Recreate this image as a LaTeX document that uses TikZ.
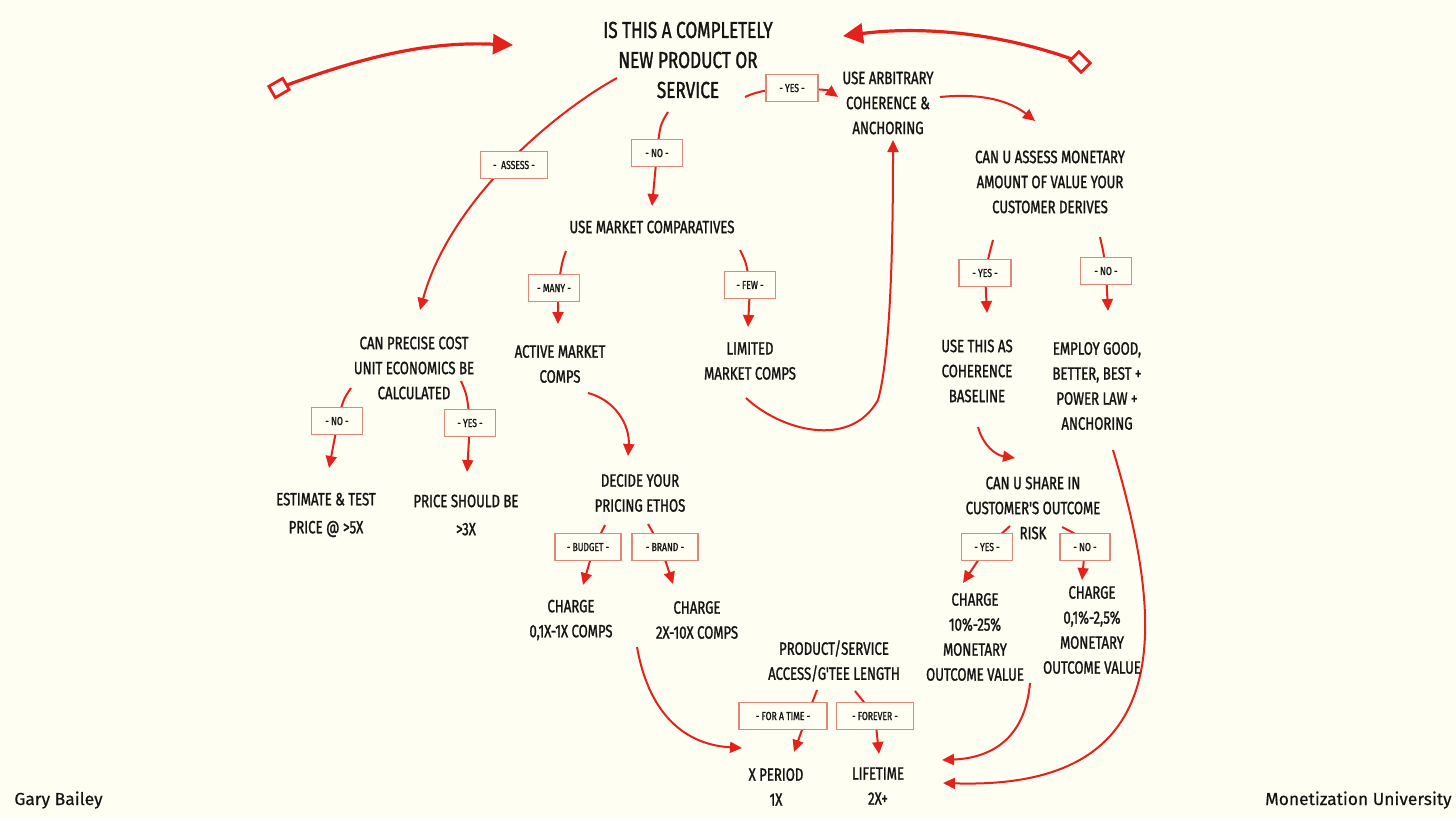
\documentclass[tikz,border=0pt]{standalone}
\usepackage{fontspec}
\usetikzlibrary{arrows.meta,calc}
\newfontfamily\hand[FakeStretch=0.74,FakeBold=1.3]{Fira Sans}
\newfontfamily\footfont[FakeBold=0.4]{Fira Sans}
\definecolor{bgc}{HTML}{FFFEF3}
\definecolor{arrred}{HTML}{E5211B}
\definecolor{boxred}{HTML}{E0877A}
\definecolor{ink}{HTML}{141414}
\pgfdeclarelayer{back}\pgfdeclarelayer{mid}\pgfsetlayers{back,mid,main}
\begin{document}
\begin{tikzpicture}[x=0.5pt,y=-0.5pt,
 txt/.style={font=\hand\fontsize{8.9}{12.5}\selectfont, align=center, inner sep=0pt, text=ink},
 ttl/.style={font=\hand\fontsize{11.6}{15}\selectfont, align=center, inner sep=0pt, text=ink},
 lbl/.style={draw=boxred, fill=bgc, line width=0.6pt, font=\hand\fontsize{5.8}{6}\selectfont, text=ink, minimum height=13.5pt, inner sep=1pt},
 link/.style={draw=arrred, line width=1pt},
 arr/.style={link, -{Triangle[length=6pt,width=5.5pt]}},
 big/.style={draw=arrred, line width=1.6pt, -{Triangle[length=10pt,width=10pt]}},
 tag/.style={draw=arrred, line width=1.4pt, fill=white, minimum width=8pt, minimum height=6.5pt, inner sep=0pt},
 foot/.style={font=\footfont\fontsize{8.7}{10}\selectfont, text=ink, inner sep=0pt}]
\begin{pgfonlayer}{back}
\fill[bgc] (0,0) rectangle (1456,819);
\end{pgfonlayer}
\useasboundingbox (0,0) rectangle (1456,819);

% ---- text nodes
\node[ttl] (q1) at (688,60) {IS THIS A COMPLETELY\\NEW PRODUCT OR\\SERVICE};
\node[txt] (arb) at (888,103) {USE ARBITRARY\\COHERENCE \&\\ANCHORING};
\node[txt] (assess) at (1050,182) {CAN U ASSESS MONETARY\\AMOUNT OF VALUE YOUR\\CUSTOMER DERIVES};
\node[txt] (usethis) at (977,371) {USE THIS AS\\COHERENCE\\BASELINE};
\node[txt] (employ) at (1097,386) {EMPLOY GOOD,\\BETTER, BEST +\\POWER LAW +\\ANCHORING};
\node[txt] (share) at (1033,508) {CAN U SHARE IN\\CUSTOMER'S OUTCOME\\RISK};
\node[txt] (c10) at (975,637) {CHARGE\\10\%-25\%\\MONETARY\\OUTCOME VALUE};
\node[txt] (c01) at (1092,630) {CHARGE\\0,1\%-2,5\%\\MONETARY\\OUTCOME VALUE};
\node[txt] (prod) at (834,661) {PRODUCT/SERVICE\\ACCESS/G'TEE LENGTH};
\node[txt] (xper) at (776,787) {X PERIOD\\1X};
\node[txt] (life) at (878,786) {LIFETIME\\2X+};
\node[txt] (umc) at (652,227) {USE MARKET COMPARATIVES};
\node[txt] (active) at (560,364) {ACTIVE MARKET\\COMPS};
\node[txt] (limited) at (750,361) {LIMITED\\MARKET COMPS};
\node[txt] (decide) at (640,493) {DECIDE YOUR\\PRICING ETHOS};
\node[txt] (cbud) at (571,620) {CHARGE\\0,1X-1X COMPS};
\node[txt] (cbrand) at (697,620) {CHARGE\\2X-10X COMPS};
\node[txt] (precise) at (414,368) {CAN PRECISE COST\\UNIT ECONOMICS BE\\CALCULATED};
\node[txt] (estimate) at (326,515) {ESTIMATE \& TEST\\[1.5pt]PRICE @ >5X};
\node[txt] (pricesb) at (466,515) {PRICE SHOULD BE\\[1.5pt]>3X};

% ---- label boxes
\node[lbl, minimum width=33.5pt] (assessbox) at (514,165) {-\ \ ASSESS -};
\node[lbl, minimum width=25.5pt] (no1) at (657,153) {- NO -};
\node[lbl, minimum width=26pt] (yes1) at (792,88) {- YES -};
\node[lbl, minimum width=26pt] (yes2) at (985,273) {- YES -};
\node[lbl, minimum width=25.5pt] (no2) at (1106,271) {- NO -};
\node[lbl, minimum width=25.5pt] (yes3) at (987,547) {- YES -};
\node[lbl, minimum width=25pt] (no3) at (1085,547) {- NO -};
\node[lbl, minimum width=44pt] (fortime) at (783,716) {- FOR A TIME -};
\node[lbl, minimum width=38.5pt] (forever) at (875,716) {- FOREVER -};
\node[lbl, minimum width=25.5pt] (many) at (554,288) {- MANY -};
\node[lbl, minimum width=25.5pt] (few) at (750,285) {- FEW -};
\node[lbl, minimum width=33pt] (budget) at (588,547) {- BUDGET -};
\node[lbl, minimum width=33pt] (brand) at (665,547) {- BRAND -};
\node[lbl, minimum width=25.5pt] (no4) at (337,421) {- NO -};
\node[lbl, minimum width=25.5pt] (yes4) at (470,423) {- YES -};

% ---- decorative tags
\node[tag, rotate=30] (tagL) at (279,88) {};
\node[tag, rotate=-45] (tagR) at (1080,62) {};
\coordinate (bigT1) at (513,45);
\coordinate (bigT2) at (843,36);

% ---- footer
\node[foot, anchor=base west] (gary) at (14,805) {Gary Bailey};
\node[foot, anchor=base east] (mu) at (1452,805) {Monetization University};

% ---- connector end points
\coordinate (q1s1) at (617,78);  \coordinate (precT) at (420,310);
\coordinate (q1s2) at (668,112); \coordinate (umcT) at (652,206);
\coordinate (q1s3) at (745,97);  \coordinate (arbT) at (838,97);
\coordinate (arbS) at (940,97);  \coordinate (assT) at (1035,121);
\coordinate (assS1) at (993,240); \coordinate (useT) at (987,313);
\coordinate (assS2) at (1100,237); \coordinate (empT) at (1108,311);
\coordinate (useS) at (978,427); \coordinate (shT) at (1015,458);
\coordinate (shS1) at (1010,526); \coordinate (c10T) at (963,583);
\coordinate (shS2) at (1062,527); \coordinate (c01T) at (1082,580);
\coordinate (c10S) at (1030,683); \coordinate (lifeT1) at (942,760);
\coordinate (empS) at (1113,450); \coordinate (lifeT2) at (943,783);
\coordinate (prodS1) at (817,690); \coordinate (xperT) at (794,752);
\coordinate (prodS2) at (855,691); \coordinate (lifeT) at (879,754);
\coordinate (brS) at (637,647); \coordinate (xperT2) at (742,748);
\coordinate (umcS1) at (566,251); \coordinate (actT) at (558,324);
\coordinate (umcS2) at (740,250); \coordinate (limT) at (748,327);
\coordinate (actS) at (588,393); \coordinate (decT) at (628,456);
\coordinate (limS) at (746,398); \coordinate (arbT2) at (893,140);
\coordinate (decS1) at (605,525); \coordinate (budT) at (583,585);
\coordinate (decS2) at (648,524); \coordinate (brT) at (673,584);
\coordinate (preS1) at (351,388); \coordinate (estT) at (329,468);
\coordinate (preS2) at (461,381); \coordinate (psT) at (467,472);

\begin{pgfonlayer}{mid}
\draw[big] (tagL.center) .. controls (380,50) and (440,42) .. (bigT1);
\draw[big] (tagR.center) .. controls (1000,32) and (920,26) .. (bigT2);

\draw[arr] (q1s1) .. controls (555,112) and (450,200) .. (precT);
\draw[arr] (q1s2) .. controls (660,125) .. (no1.center) -- (umcT);
\draw[arr] (q1s3) .. controls (760,90) and (775,89) .. (yes1.center) .. controls (815,89) and (828,90) .. (arbT);
\draw[arr] (arbS) .. controls (990,92) and (1015,105) .. (assT);
\draw[arr] (assS1) .. controls (989,255) .. (yes2.center) -- (useT);
\draw[arr] (assS2) .. controls (1104,255) .. (no2.center) -- (empT);
\draw[arr] (useS) .. controls (983,445) and (995,455) .. (shT);
\draw[arr] (shS1) -- (yes3.center) -- (c10T);
\draw[arr] (shS2) .. controls (1078,535) .. (no3.center) -- (c01T);
\draw[arr] (c10S) .. controls (1025,740) and (990,758) .. (lifeT1);
\draw[arr] (empS) .. controls (1170,640) and (1170,790) .. (lifeT2);
\draw[arr] (prodS1) -- ($(fortime.center)+(24,0)$) -- (xperT);
\draw[arr] (prodS2) -- (forever.center) -- (lifeT);
\draw[arr] (brS) .. controls (650,720) and (690,745) .. (xperT2);
\draw[arr] (umcS1) .. controls (562,262) .. ($(many.center)+(4,0)$) -- (actT);
\draw[arr] (umcS2) .. controls (746,262) .. (few.center) -- (limT);
\draw[arr] (actS) .. controls (615,400) and (630,425) .. (decT);
\draw[arr] (limS) .. controls (780,430) and (850,450) .. (878,400) .. controls (892,350) and (893,220) .. (arbT2);
\draw[arr] (decS1) -- ($(budget.center)+(6,0)$) -- (budT);
\draw[arr] (decS2) -- ($(brand.center)+(-4,0)$) -- (brT);
\draw[arr] (preS1) .. controls (343,400) .. ($(no4.center)+(1,0)$) -- (estT);
\draw[arr] (preS2) .. controls (467,395) .. (yes4.center) -- (psT);
\end{pgfonlayer}
\end{tikzpicture}
\end{document}
